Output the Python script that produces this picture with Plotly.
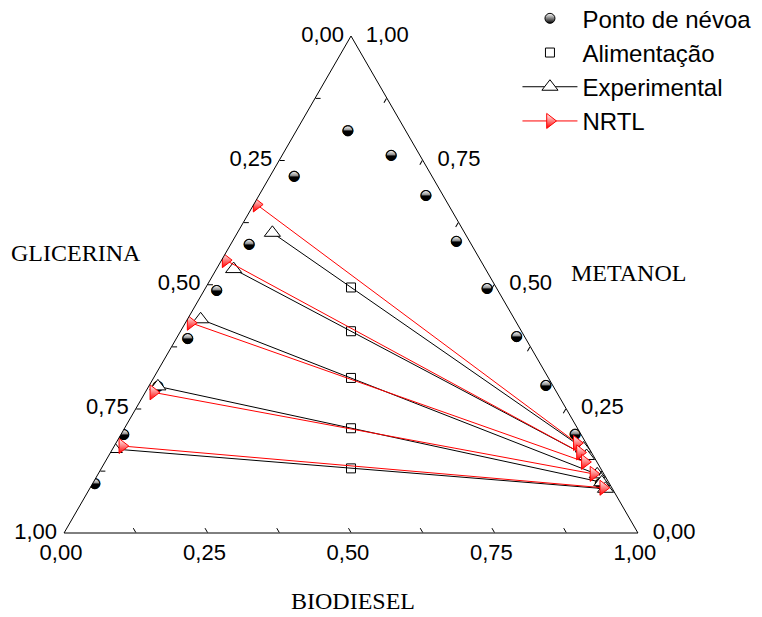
import plotly.graph_objects as go

# Ternary system methanol (a, top) / glycerin (b, left) / biodiesel (c, right)

# Cloud points (ponto de névoa)
cloud_metanol = [0.718, 0.581, 0.488, 0.391, 0.295, 0.198, 0.099,
                 0.809, 0.760, 0.679, 0.587, 0.492, 0.395, 0.297, 0.199, 0.099]
cloud_glicerina = [0.240, 0.387, 0.490, 0.589, 0.689, 0.797, 0.897,
                   0.101, 0.050, 0.030, 0.023, 0.017, 0.014, 0.012, 0.010, 0.016]
cloud_biodiesel = [0.042, 0.032, 0.022, 0.020, 0.016, 0.005, 0.004,
                   0.090, 0.190, 0.291, 0.390, 0.491, 0.591, 0.691, 0.791, 0.885]

# Feed mixtures (alimentação)
feed_metanol = [0.494, 0.406, 0.312, 0.211, 0.130]
feed_glicerina = [0.253, 0.297, 0.344, 0.395, 0.435]
feed_biodiesel = [0.253, 0.297, 0.344, 0.395, 0.435]

# Experimental tie lines: glycerin-rich phase
exp_gli_metanol = [0.604, 0.531, 0.430, 0.295, 0.169]
exp_gli_glicerina = [0.335, 0.439, 0.547, 0.689, 0.828]
exp_gli_biodiesel = [0.061, 0.030, 0.023, 0.016, 0.003]
# Experimental tie lines: biodiesel-rich phase
exp_bio_metanol = [0.170, 0.155, 0.118, 0.102, 0.089]
exp_bio_glicerina = [0.010, 0.012, 0.012, 0.012, 0.012]
exp_bio_biodiesel = [0.820, 0.833, 0.870, 0.886, 0.899]

# NRTL tie lines: glycerin-rich phase
nrtl_gli_metanol = [0.661, 0.549, 0.423, 0.283, 0.175]
nrtl_gli_glicerina = [0.334, 0.444, 0.568, 0.703, 0.811]
nrtl_gli_biodiesel = [0.005, 0.007, 0.009, 0.014, 0.014]
# NRTL tie lines: biodiesel-rich phase
nrtl_bio_metanol = [0.181, 0.162, 0.143, 0.119, 0.091]
nrtl_bio_glicerina = [0.016, 0.020, 0.021, 0.018, 0.015]
nrtl_bio_biodiesel = [0.803, 0.818, 0.836, 0.863, 0.894]

tick_values = [0, 0.125, 0.25, 0.375, 0.5, 0.625, 0.75, 0.875, 1.0]

NBSP = "\u00a0"
THIN = "\u2009"


def tie_segments(left, right):
    """Interleave the two phase compositions with gaps, one segment per tie line."""
    out = []
    for lv, rv in zip(left, right):
        out += [lv, rv, None]
    return out


def tick_text(values, prefix="", suffix=""):
    # each edge is labelled with the complementary fraction, decimal comma
    labels = []
    for v in values:
        if abs(v * 4 - round(v * 4)) < 1e-9:
            labels.append(prefix + f"{1 - v:.2f}".replace(".", ",") + suffix)
        else:
            labels.append("")
    return labels


SANS = "Arial, Liberation Sans, sans-serif"
SERIF = "Times New Roman, Liberation Serif, serif"

fig = go.Figure()

# cloud points: legend symbol from a shaded marker, points drawn as half-black circles
fig.add_trace(go.Scatterternary(
    a=cloud_metanol, b=cloud_glicerina, c=cloud_biodiesel,
    mode="markers", name="Ponto de névoa",
    marker=dict(symbol="circle", size=10, color="white",
                gradient=dict(type="vertical", color="black"),
                line=dict(color="black", width=1)),
))
fig.add_trace(go.Scatterternary(
    a=cloud_metanol, b=cloud_glicerina, c=cloud_biodiesel,
    mode="text", text=["\u25D2"] * len(cloud_metanol), textposition="middle center",
    textfont=dict(family="DejaVu Sans", size=14, color="black"),
    showlegend=False, hoverinfo="skip",
))

fig.add_trace(go.Scatterternary(
    a=feed_metanol, b=feed_glicerina, c=feed_biodiesel,
    mode="markers", name="Alimentação",
    marker=dict(symbol="square-open", size=9, color="black",
                line=dict(color="black", width=1)),
))

fig.add_trace(go.Scatterternary(
    a=tie_segments(exp_gli_metanol, exp_bio_metanol),
    b=tie_segments(exp_gli_glicerina, exp_bio_glicerina),
    c=tie_segments(exp_gli_biodiesel, exp_bio_biodiesel),
    mode="lines+markers", name="Experimental", connectgaps=False,
    line=dict(color="black", width=1),
    marker=dict(symbol="triangle-up", size=14, color="white",
                line=dict(color="black", width=1)),
))

fig.add_trace(go.Scatterternary(
    a=tie_segments(nrtl_gli_metanol, nrtl_bio_metanol),
    b=tie_segments(nrtl_gli_glicerina, nrtl_bio_glicerina),
    c=tie_segments(nrtl_gli_biodiesel, nrtl_bio_biodiesel),
    mode="lines+markers", name="NRTL", connectgaps=False,
    line=dict(color="red", width=1),
    marker=dict(symbol="triangle-right", size=13, color="white",
                gradient=dict(type="vertical", color="red"),
                line=dict(color="red", width=1)),
))

axis_style = dict(
    min=0, tickmode="array", tickvals=tick_values,
    ticks="inside", ticklen=5, tickcolor="black", tickwidth=1,
    tickfont=dict(family=SANS, size=22, color="black"),
    showgrid=False, showline=True, linecolor="black", linewidth=1,
    title=dict(text=""),
)
left_axis = dict(axis_style, ticktext=tick_text(tick_values, suffix=THIN))
bottom_axis = dict(axis_style, ticktext=tick_text(tick_values, suffix=NBSP))
right_axis = dict(axis_style, ticktext=tick_text(tick_values, prefix=NBSP * 2))

fig.update_layout(
    width=762, height=617,
    margin=dict(l=64, r=124, t=36, b=84, autoexpand=False),
    paper_bgcolor="white",
    ternary=dict(
        sum=1,
        domain=dict(x=[0, 1], y=[0, 1]),
        bgcolor="white",
        aaxis=left_axis, baxis=bottom_axis, caxis=right_axis,
    ),
    legend=dict(
        x=0.79, y=1.08, xanchor="left", yanchor="top",
        bgcolor="rgba(0,0,0,0)", borderwidth=0,
        font=dict(family=SANS, size=24, color="black"),
        tracegroupgap=0, itemwidth=55,
    ),
    showlegend=True,
)

# edge titles
fig.add_annotation(text="GLICERINA", x=0.021, y=0.5625, xref="paper", yref="paper",
                   xanchor="center", yanchor="middle", showarrow=False,
                   font=dict(family=SERIF, size=24, color="black"))
fig.add_annotation(text="METANOL", x=0.984, y=0.524, xref="paper", yref="paper",
                   xanchor="center", yanchor="middle", showarrow=False,
                   font=dict(family=SERIF, size=24, color="black"))
fig.add_annotation(text="BIODIESEL", x=0.5035, y=-0.167, xref="paper", yref="paper",
                   xanchor="center", yanchor="bottom", showarrow=False,
                   font=dict(family=SERIF, size=24, color="black"))

fig.write_html("out.html")
